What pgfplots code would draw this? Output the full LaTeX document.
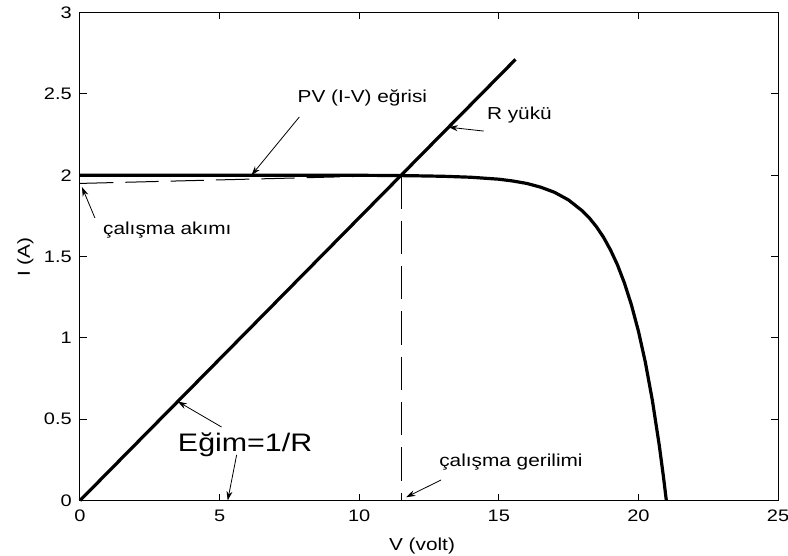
\documentclass[border=0pt]{standalone}
\usepackage{fontspec}
\setmainfont{Liberation Sans}[FakeStretch=1.2]
\usepackage{pgfplots}
\pgfplotsset{compat=1.18}
\usetikzlibrary{arrows.meta}
\begin{document}
\begin{tikzpicture}
\begin{axis}[name=ax, scale only axis, width=523.5pt, height=365.85pt,
  xmin=0, xmax=25, ymin=0, ymax=3,
  xtick={0,5,10,15,20,25}, ytick={0,0.5,1,1.5,2,2.5,3},
  tick align=inside, tick pos=both, major tick length=5pt,
  axis line style={line width=0.75pt}, tick style={line width=0.75pt, black},
  /pgf/number format/assume math mode=true,
  ticklabel style={font=\fontsize{12.5}{15}\selectfont},
  yticklabel style={inner sep=0pt, xshift=-6pt},
  xticklabel style={inner sep=0pt, yshift=-7pt},
  clip=false,
  every axis plot/.append style={black},
]
% PV (I-V) curve
\addplot[line width=2.4pt] coordinates {
(0,2.000)(5,2.000)(10,2.000)(11,1.999)(12,1.997)(13,1.994)(14,1.988)(15,1.976)
(15.5,1.965)(16,1.950)(16.5,1.927)(17,1.895)(17.5,1.848)(18,1.780)(18.25,1.736)
(18.5,1.683)(18.75,1.619)(19,1.541)(19.25,1.449)(19.5,1.337)(19.75,1.203)
(20,1.042)(20.25,0.849)(20.5,0.616)(20.75,0.336)(20.9,0.142)(21,0.000)};
% load line
\addplot[line width=2.4pt] coordinates {(0,0)(15.6,2.713)};
% operating point dashed lines
\addplot[line width=0.75pt, dash pattern=on 25pt off 9pt] coordinates {(0,1.95)(11.5,2.0)};
\addplot[line width=0.75pt, dash pattern=on 25pt off 9pt] coordinates {(11.5,2.0)(11.5,0)};
% annotations
\tikzset{ann/.style={line width=0.6pt, -{Stealth[length=7pt,width=4.5pt]}}}
\node[anchor=west, inner sep=0pt, font=\fontsize{13}{15}\selectfont] at (axis cs:7.786,2.475) {PV (I-V) eğrisi};
\draw[ann] (axis cs:7.857,2.359) -- (axis cs:6.14,2.0);
\node[anchor=west, inner sep=0pt, font=\fontsize{13}{15}\selectfont] at (axis cs:14.57,2.371) {R yükü};
\draw[ann] (axis cs:14.46,2.272) -- (axis cs:13.2,2.296);
\node[anchor=west, inner sep=0pt, font=\fontsize{13}{15}\selectfont] at (axis cs:0.82,1.664) {çalışma akımı};
\draw[ann] (axis cs:0.536,1.737) -- (axis cs:0.07,1.928);
\node[anchor=west, inner sep=0pt, font=\fontsize{19}{22}\selectfont] at (axis cs:3.5,0.342) {Eğim=1/R};
\draw[ann] (axis cs:5.07,0.452) -- (axis cs:3.5,0.609);
\draw[ann] (axis cs:5.61,0.28) -- (axis cs:5.29,0.0);
\node[anchor=west, inner sep=0pt, font=\fontsize{13}{15}\selectfont] at (axis cs:12.86,0.237) {çalışma gerilimi};
\draw[ann] (axis cs:12.93,0.126) -- (axis cs:11.68,0.02);
% axis labels
\node[inner sep=0pt, font=\fontsize{13}{15}\selectfont] at (axis cs:12.25,-0.28) {V (volt)};
\node[inner sep=0pt, rotate=90, font=\fontsize{13}{15}\selectfont] at (axis cs:-1.96,1.497) {I (A)};
\end{axis}
\pgfresetboundingbox
\path[use as bounding box] ([xshift=-60pt,yshift=-41.625pt]ax.south west) rectangle ([xshift=7.5pt,yshift=9.525pt]ax.north east);
\end{tikzpicture}
\end{document}
